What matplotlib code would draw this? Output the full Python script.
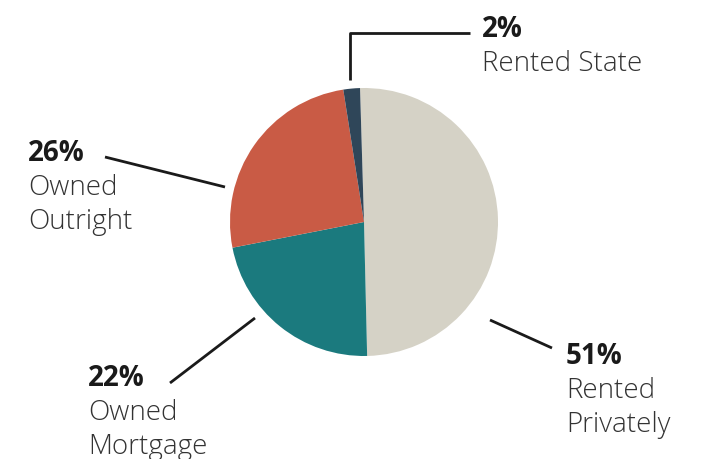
import matplotlib.pyplot as plt

labels = ["Rented\nPrivately", "Owned\nMortgage", "Owned\nOutright", "Rented State"]
shares = [50.1, 22.3, 25.6, 2.0]          # wedge sizes as drawn
pct_text = ["51%", "22%", "26%", "2%"]    # printed percentages
colors = ["#D5D2C6", "#1B7A7E", "#C95B45", "#2F4659"]

W, H = 710, 459
fig = plt.figure(figsize=(W / 100, H / 100), dpi=100)
ax = fig.add_axes([0, 0, 1, 1])

ax.pie(shares, colors=colors, startangle=91.7, counterclock=False,
       center=(364, H - 222), radius=134, wedgeprops=dict(linewidth=0))
ax.set_xlim(0, W)
ax.set_ylim(0, H)
ax.set_aspect("equal")
ax.axis("off")

# label layout: (text x, baseline of % line, leader line points)
layout = [
    (566, 364, [(490, 320), (552, 348)]),
    (88, 386, [(255, 318), (170, 383)]),
    (28, 161, [(225, 187), (105, 157)]),
    (482, 37, [(350, 80), (350, 33), (470, 33)]),
]

font = "Open Sans"
for lab, pct, (tx, by, pts) in zip(labels, pct_text, layout):
    xs = [p[0] for p in pts]
    ys = [H - p[1] for p in pts]
    ax.plot(xs, ys, color="#1a1a1a", lw=2, solid_capstyle="butt")
    ax.text(tx, H - by, pct, fontsize=20, fontweight="bold",
            family=font, color="#1a1a1a", va="baseline", ha="left")
    for i, line in enumerate(lab.split("\n")):
        ax.text(tx, H - by - 34 * (i + 1), line, fontsize=20, fontweight="light",
                family=font, color="#333333", va="baseline", ha="left")

fig.savefig("out.png", dpi=100)
